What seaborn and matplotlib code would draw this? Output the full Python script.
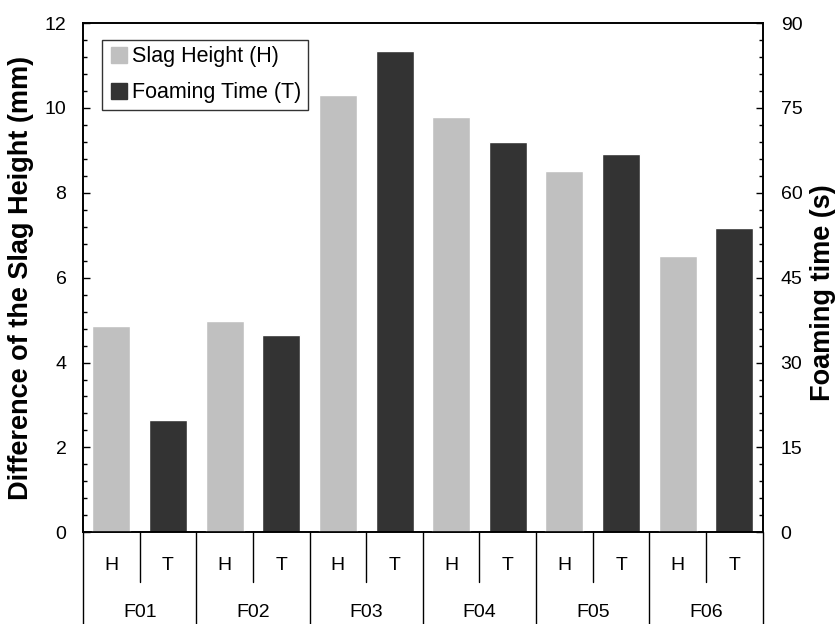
import matplotlib
matplotlib.use("Agg")
import matplotlib.pyplot as plt
from matplotlib.lines import Line2D
from matplotlib.ticker import MultipleLocator
import pandas as pd
import seaborn as sns

samples = ["F01", "F02", "F03", "F04", "F05", "F06"]
slag_height = [4.86, 4.97, 10.3, 9.78, 8.51, 6.51]      # mm
foaming_time = [19.8, 34.8, 85.0, 69.0, 66.8, 53.7]     # s

H_COLOR = "#c0c0c0"
T_COLOR = "#333333"

slots = []
for s in samples:
    slots += [f"{s}-H", f"{s}-T"]

df_h = pd.DataFrame({"slot": [f"{s}-H" for s in samples], "value": slag_height})
df_t = pd.DataFrame({"slot": [f"{s}-T" for s in samples], "value": foaming_time})

sns.set_style("white")
plt.rcParams["font.family"] = ["Liberation Sans", "DejaVu Sans"]
plt.rcParams["text.color"] = "black"
plt.rcParams["axes.labelcolor"] = "black"
plt.rcParams["ytick.color"] = "black"

fig = plt.figure(figsize=(8.39, 6.24), dpi=100)
ax = fig.add_axes([0.099, 0.147, 0.81, 0.816])
ax2 = ax.twinx()

sns.barplot(data=df_h, x="slot", y="value", order=slots, color=H_COLOR,
            width=0.67, saturation=1, ax=ax, errorbar=None)
sns.barplot(data=df_t, x="slot", y="value", order=slots, color=T_COLOR,
            width=0.67, saturation=1, ax=ax2, errorbar=None)

ax.set_xlim(-0.5, len(slots) - 0.5)
ax.set_ylim(0, 12)
ax2.set_ylim(0, 90)
ax.yaxis.set_major_locator(MultipleLocator(2))
ax.yaxis.set_minor_locator(MultipleLocator(0.4))
ax2.yaxis.set_major_locator(MultipleLocator(15))
ax2.yaxis.set_minor_locator(MultipleLocator(3))

for a in (ax, ax2):
    a.set_xticks([])
    a.set_xlabel("")
    for sp in a.spines.values():
        sp.set_color("black")
        sp.set_linewidth(1.2)
ax.tick_params(axis="y", which="major", direction="in", length=5, width=1,
               labelsize=14, left=True, right=False, pad=12)
ax.tick_params(axis="y", which="minor", direction="in", length=3, width=1,
               left=True, right=False)
ax2.tick_params(axis="y", which="major", direction="in", length=5, width=1,
                labelsize=14, right=True, left=False, pad=13)
ax2.tick_params(axis="y", which="minor", direction="in", length=3, width=1,
                right=True, left=False)

ax.set_ylabel("Difference of the Slag Height (mm)", fontsize=19.5,
              fontweight="bold")
ax.yaxis.set_label_coords(-0.072, 0.5)
ax2.set_ylabel("Foaming time (s)", fontsize=19.5, fontweight="bold",
               rotation=90)
ax2.yaxis.set_label_coords(1.07, 0.47)

# category table below the axes
trans = ax.get_xaxis_transform()
row1 = -0.098
bottom = -0.19
for i in range(len(slots) + 1):
    x = i - 0.5
    y_end = bottom if i % 2 == 0 else row1
    ax.plot([x, x], [0, y_end], color="black", lw=1, transform=trans,
            clip_on=False)
for i, slot in enumerate(slots):
    ax.text(i, -0.066, slot.split("-")[1], ha="center", va="center",
            fontsize=14, transform=trans)
for j, s in enumerate(samples):
    ax.text(2 * j + 0.5, -0.157, s, ha="center", va="center", fontsize=14,
            transform=trans)

handles = [
    Line2D([], [], marker="s", linestyle="", markersize=11,
           markerfacecolor=H_COLOR, markeredgecolor=H_COLOR),
    Line2D([], [], marker="s", linestyle="", markersize=11,
           markerfacecolor=T_COLOR, markeredgecolor=T_COLOR),
]
leg = ax.legend(handles, ["Slag Height (H)", "Foaming Time (T)"],
                loc="upper left", bbox_to_anchor=(0.028, 0.967),
                fontsize=15.5, frameon=True, fancybox=False,
                handletextpad=0.1, handlelength=1.0, borderpad=0.3,
                labelspacing=0.7, borderaxespad=0)
leg.get_frame().set_edgecolor("black")
leg.get_frame().set_linewidth(1)
ax.set_zorder(ax2.get_zorder() + 1)
ax.patch.set_visible(False)

fig.savefig("out.png", dpi=100)
